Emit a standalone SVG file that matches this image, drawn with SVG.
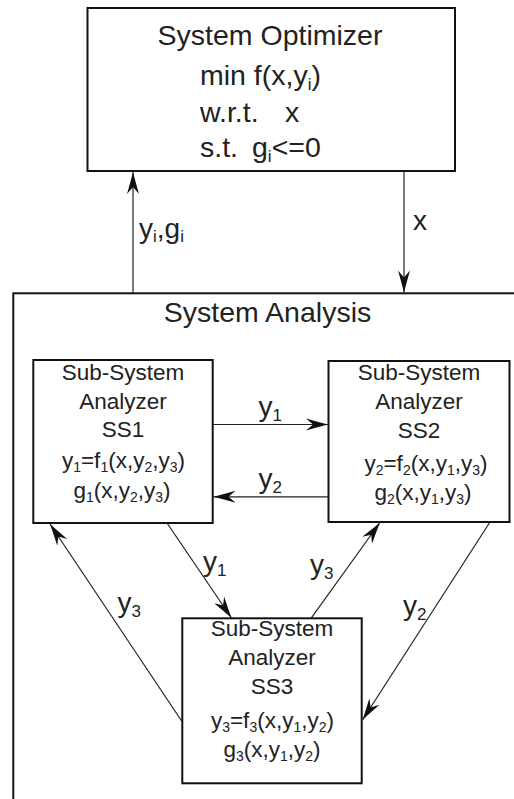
<svg xmlns="http://www.w3.org/2000/svg" width="514" height="799" viewBox="0 0 514 799">
<style>
text{font-family:"Liberation Sans",Arial,sans-serif;fill:#222}
.t28{font-size:28.5px}
.t22{font-size:22.5px;text-anchor:middle}
.lab{font-size:28px}
.s16{font-size:17px}
.s14{font-size:14px}
.box{fill:#fff;stroke:#111;stroke-width:2}
.con{fill:none;stroke:#222;stroke-width:1.2}
</style>
<defs>
<marker id="ah" viewBox="-24 -8 26 16" markerWidth="26" markerHeight="16" refX="0" refY="0" orient="auto" markerUnits="userSpaceOnUse">
<path d="M0,0 Q-10,-2.5 -22,-6 L-15,0 L-22,6 Q-10,2.5 0,0 Z" fill="#111"/>
</marker>
</defs>
<rect width="514" height="799" fill="#fff"/>
<g id="system-optimizer">
<rect class="box" x="87.5" y="8" width="367.5" height="163" stroke-width="2.3"/>
<text class="t28" x="270" y="45" text-anchor="middle">System Optimizer</text>
<text class="t28" x="200" y="85">min f(x,y<tspan class="s16" dy="5">i</tspan><tspan dy="-5">)</tspan></text>
<text class="t28" x="200" y="122">w.r.t.</text>
<text class="t28" x="285" y="122">x</text>
<text class="t28" x="200" y="157">s.t.</text>
<text class="t28" x="252" y="157">g<tspan class="s16" dy="5">i</tspan><tspan dy="-5">&lt;=0</tspan></text>
</g>
<g id="system-analysis">
<rect class="box" x="13.3" y="293.3" width="520" height="530" stroke-width="2.3"/>
<text class="t28" x="267.5" y="321.5" text-anchor="middle">System Analysis</text>
</g>
<g id="ss1">
<rect class="box" x="33.3" y="360" width="179.4" height="163"/>
<text class="t22" x="123" y="380">Sub-System</text>
<text class="t22" x="123" y="408.5">Analyzer</text>
<text class="t22" x="123" y="437">SS1</text>
<text class="t22" x="123.5" y="468">y<tspan class="s14" dy="4">1</tspan><tspan dy="-4">=f</tspan><tspan class="s14" dy="4">1</tspan><tspan dy="-4">(x,y</tspan><tspan class="s14" dy="4">2</tspan><tspan dy="-4">,y</tspan><tspan class="s14" dy="4">3</tspan><tspan dy="-4">)</tspan></text>
<text class="t22" x="122" y="498">g<tspan class="s14" dy="4">1</tspan><tspan dy="-4">(x,y</tspan><tspan class="s14" dy="4">2</tspan><tspan dy="-4">,y</tspan><tspan class="s14" dy="4">3</tspan><tspan dy="-4">)</tspan></text>
</g>
<g id="ss2">
<rect class="box" x="328.5" y="361" width="181" height="161"/>
<text class="t22" x="419" y="379.5">Sub-System</text>
<text class="t22" x="419" y="409">Analyzer</text>
<text class="t22" x="419" y="437.5">SS2</text>
<text class="t22" x="426" y="471">y<tspan class="s14" dy="4">2</tspan><tspan dy="-4">=f</tspan><tspan class="s14" dy="4">2</tspan><tspan dy="-4">(x,y</tspan><tspan class="s14" dy="4">1</tspan><tspan dy="-4">,y</tspan><tspan class="s14" dy="4">3</tspan><tspan dy="-4">)</tspan></text>
<text class="t22" x="423" y="500">g<tspan class="s14" dy="4">2</tspan><tspan dy="-4">(x,y</tspan><tspan class="s14" dy="4">1</tspan><tspan dy="-4">,y</tspan><tspan class="s14" dy="4">3</tspan><tspan dy="-4">)</tspan></text>
</g>
<g id="ss3">
<rect class="box" x="182.3" y="618.3" width="179.4" height="165"/>
<text class="t22" x="272" y="636">Sub-System</text>
<text class="t22" x="272" y="665">Analyzer</text>
<text class="t22" x="272" y="694">SS3</text>
<text class="t22" x="272.5" y="728">y<tspan class="s14" dy="4">3</tspan><tspan dy="-4">=f</tspan><tspan class="s14" dy="4">3</tspan><tspan dy="-4">(x,y</tspan><tspan class="s14" dy="4">1</tspan><tspan dy="-4">,y</tspan><tspan class="s14" dy="4">2</tspan><tspan dy="-4">)</tspan></text>
<text class="t22" x="272" y="757">g<tspan class="s14" dy="4">3</tspan><tspan dy="-4">(x,y</tspan><tspan class="s14" dy="4">1</tspan><tspan dy="-4">,y</tspan><tspan class="s14" dy="4">2</tspan><tspan dy="-4">)</tspan></text>
</g>
<g id="connectors">
<line class="con" x1="133" y1="293" x2="133" y2="172" marker-end="url(#ah)"/>
<line class="con" x1="404" y1="171" x2="404" y2="292.5" marker-end="url(#ah)"/>
<line class="con" x1="212.7" y1="424.5" x2="328" y2="424.5" marker-end="url(#ah)"/>
<line class="con" x1="328.5" y1="496.8" x2="213.5" y2="496.8" marker-end="url(#ah)"/>
<line class="con" x1="167" y1="523" x2="231.5" y2="618" marker-end="url(#ah)"/>
<line class="con" x1="182.3" y1="722" x2="50" y2="524" marker-end="url(#ah)"/>
<line class="con" x1="311" y1="618.3" x2="380" y2="522.5" marker-end="url(#ah)"/>
<line class="con" x1="490" y1="522" x2="362.5" y2="720" marker-end="url(#ah)"/>
<text class="lab" x="139" y="238">y<tspan class="s16" dy="4">i</tspan><tspan dy="-4">,g</tspan><tspan class="s16" dy="4">i</tspan></text>
<text class="lab" x="413" y="230">x</text>
<text class="lab" x="258.5" y="416">y<tspan class="s16" dy="5">1</tspan></text>
<text class="lab" x="258.5" y="488">y<tspan class="s16" dy="5">2</tspan></text>
<text class="lab" x="203" y="571">y<tspan class="s16" dy="5">1</tspan></text>
<text class="lab" x="117.5" y="612">y<tspan class="s16" dy="5">3</tspan></text>
<text class="lab" x="310" y="574">y<tspan class="s16" dy="5">3</tspan></text>
<text class="lab" x="403" y="615">y<tspan class="s16" dy="5">2</tspan></text>
</g>
</svg>
